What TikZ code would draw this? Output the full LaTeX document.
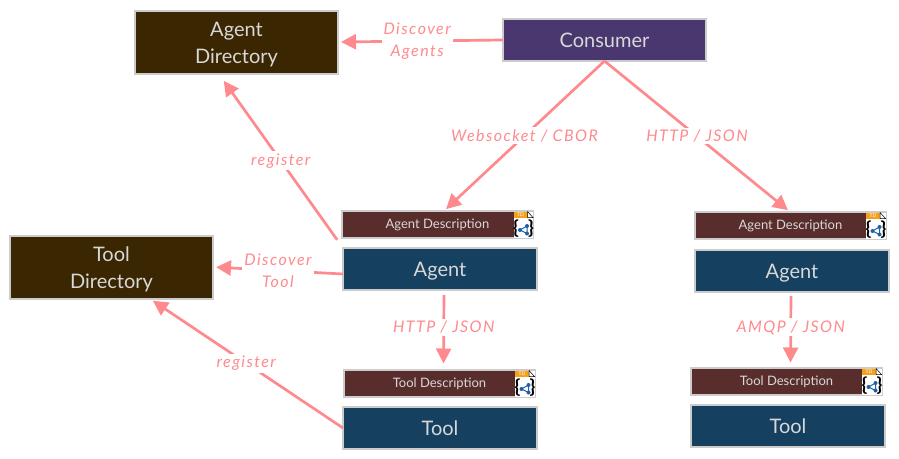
\documentclass[tikz,border=0pt]{standalone}
\usepackage{fontspec}
\setmainfont{Lato}
\newfontfamily\handfont[LetterSpace=9]{Lato Italic}
\usetikzlibrary{arrows.meta}
\definecolor{linkpink}{HTML}{FF8A8E}
\definecolor{dirbrown}{HTML}{3A2600}
\definecolor{consumerpurple}{HTML}{4A376F}
\definecolor{servicenavy}{HTML}{15405F}
\definecolor{descmaroon}{HTML}{5A2D2D}
\definecolor{boxgrey}{HTML}{CCCCCC}
\definecolor{boxtext}{HTML}{D8D8D8}
\definecolor{tdorange}{HTML}{F7A11A}
\definecolor{tdblue}{HTML}{1F5FA8}
\newcommand{\dirtop}{\rule{0pt}{19pt}}
\tikzset{
    boxed/.style = {draw = boxgrey, line width = 2pt, text = boxtext, align = center, inner sep = 0pt, outer sep = 0pt},
    bigbox/.style = {boxed, minimum width = 203pt, minimum height = 63pt, font = \fontsize{20}{27}\selectfont},
    servicebox/.style = {boxed, minimum width = 194pt, minimum height = 42pt, font = \fontsize{20}{22}\selectfont, text depth = 0pt},
    descbox/.style = {boxed, fill = descmaroon, minimum width = 191pt, minimum height = 27pt, font = \fontsize{13}{14}\selectfont, text depth = 0pt},
    link/.style = {draw = linkpink, line width = 2.7pt, -{Triangle[length = 15pt, width = 15pt]}},
    linklabel/.style = {fill = white, text = linkpink, align = center, inner sep = 2pt, font = \handfont\fontsize{16}{22}\selectfont},
    tdicon/.pic = {
        \fill[white] (-10.5, -13) rectangle (9, 13);
        \fill[tdorange] (-10.5, -13) rectangle (3.5, -7);
        \node[text = white, font = \fontsize{5}{5}\selectfont, inner sep = 0pt] (tdmark) at (-3.5, -10) {TD};
        \draw[black, line width = 0.5pt, fill = white] (3.5, -13) -- (9, -7) -- (3.5, -7) -- cycle;
        \node[text = black, font = \bfseries\fontsize{19}{19}\selectfont, inner sep = 0pt] (tdopen) at (-8, 4) {\{};
        \node[text = black, font = \bfseries\fontsize{19}{19}\selectfont, inner sep = 0pt] (tdclose) at (7, 4) {\}};
        \draw[tdblue, line width = 1pt] (-4, 5.5) -- (3, 1.5) -- (3, 9) -- cycle;
        \fill[tdblue] (-4, 5.5) circle (2) (3, 1.5) circle (2) (3, 9) circle (2);
    }
}
\begin{document}
\begin{tikzpicture}[x = 1pt, y = -1pt, align = center]
    \useasboundingbox (0, 0) rectangle (899, 458);
    \node[bigbox, fill = dirbrown] (agentdir) at (236.5, 42) {\dirtop Agent\\Directory};
    \node[bigbox, fill = dirbrown] (tooldir) at (111.5, 267) {\dirtop Tool\\Directory};
    \node[servicebox, fill = consumerpurple, minimum width = 203pt] (consumer) at (604.5, 40) {Consumer};
    \node[descbox] (agentdescl) at (437.5, 224) {Agent Description};
    \node[servicebox, fill = servicenavy] (agentl) at (440, 269) {Agent};
    \node[descbox] (tooldescl) at (439.5, 383) {Tool Description};
    \node[servicebox, fill = servicenavy] (tooll) at (440, 428) {Tool};
    \node[descbox] (agentdescr) at (790.5, 225) {Agent Description};
    \node[servicebox, fill = servicenavy] (agentr) at (792, 271) {Agent};
    \node[descbox] (tooldescr) at (786.5, 381) {Tool Description};
    \node[servicebox, fill = servicenavy] (toolr) at (788, 426) {Tool};
    \pic at (524, 224.5) {tdicon};
    \pic at (525.5, 383.5) {tdicon};
    \pic at (876.5, 225.5) {tdicon};
    \pic at (872.5, 381.5) {tdicon};
    \draw[link, shorten >= 3pt] (consumer.west) -- (agentdir.east)
        node[linklabel, pos = 0.52] {Discover\\Agents};
    \draw[link, shorten >= 2pt] (consumer.south) -- ([xshift = 7pt]agentdescl.north)
        node[linklabel, midway] {Websocket / CBOR};
    \draw[link, shorten >= 2pt] (consumer.south) -- ([xshift = -1pt]agentdescr.north)
        node[linklabel, midway] {HTTP / JSON};
    \draw[link, shorten <= 10pt, shorten >= 9pt] (agentl.north west) -- ([xshift = -18pt]agentdir.south)
        node[linklabel, midway] {register};
    \draw[link, shorten >= 3pt] ([yshift = -5pt]agentl.west) -- (tooldir.east)
        node[linklabel, midway] {Discover\\Tool};
    \draw[link, shorten <= 5pt, shorten >= 6pt] ([xshift = 4pt]agentl.south) -- ([xshift = 4pt]tooldescl.north)
        node[linklabel, pos = 0.47] {HTTP / JSON};
    \draw[link, shorten <= 4pt, shorten >= 5pt] ([xshift = -1pt]agentr.south) -- ([xshift = 4pt]tooldescr.north)
        node[linklabel, pos = 0.47] {AMQP / JSON};
    \draw[link, shorten >= 4pt] (tooll.west) -- ([xshift = 38pt]tooldir.south)
        node[linklabel, midway] {register};
\end{tikzpicture}
\end{document}
